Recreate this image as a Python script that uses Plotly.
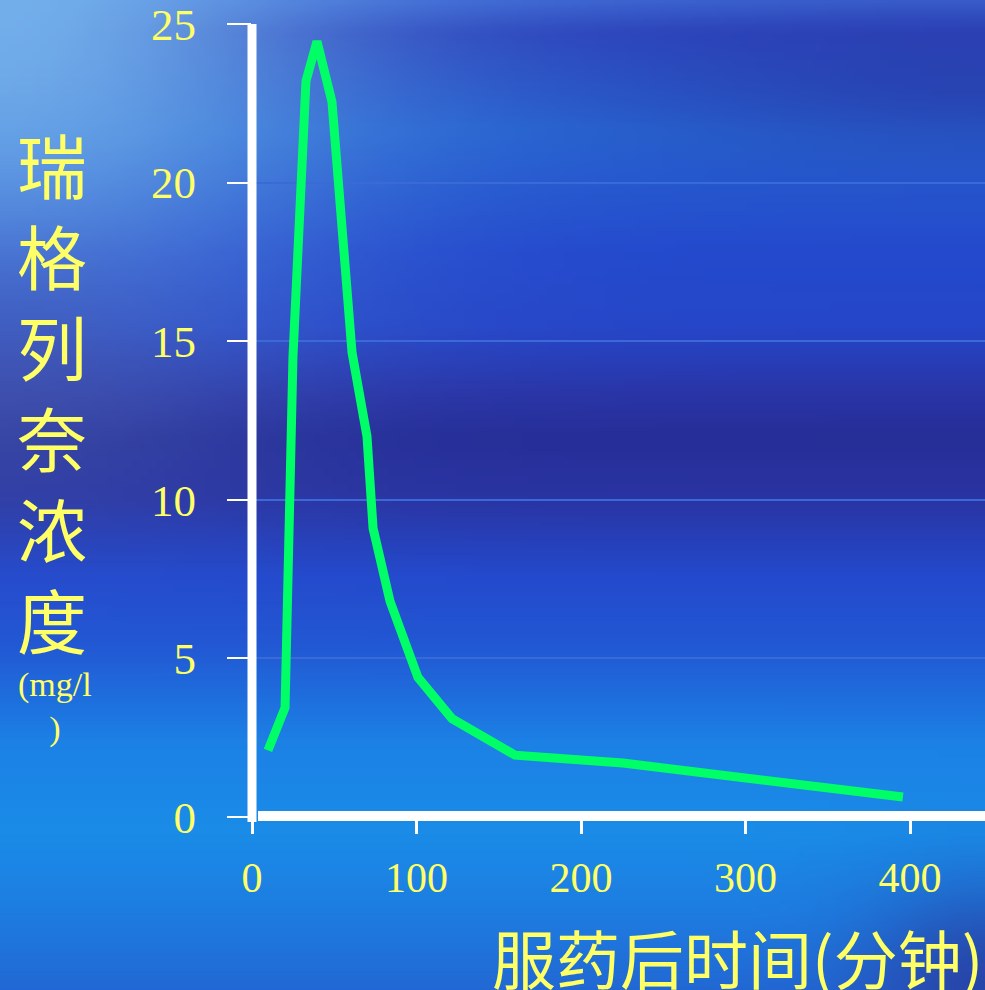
import base64, struct, zlib
import numpy as np
import plotly.graph_objects as go

# ---------------- data ----------------
time_min = [9.7, 20.1, 24.9, 32.8, 39.5, 48.6, 60.8, 69.9, 73.6, 83.9, 100.9, 121.6, 159.9, 225.5, 395.7]
conc = [2.1, 3.45, 14.5, 23.2, 24.45, 22.55, 14.65, 12.0, 9.1, 6.8, 4.4, 3.1, 1.95, 1.7, 0.63]
x_ticks = [0, 100, 200, 300, 400]
y_ticks = [0, 5, 10, 15, 20, 25]
y_title = "瑞<br>格<br>列<br>奈<br>浓<br>度"
y_unit = "(mg/l<br>)"
x_title = "服药后时间(分钟)"

W, H = 985, 990
L, R, T, B = 252, 0, 20, 173
YELLOW = "#FFFF66"
X_SCALE = 1.645  # px per minute

# ---------------- background gradient image ----------------
def make_png(arr):
    h, w, _ = arr.shape
    raw = b"".join(b"\x00" + arr[i].tobytes() for i in range(h))
    def chunk(tag, data):
        c = struct.pack(">I", len(data)) + tag + data
        return c + struct.pack(">I", zlib.crc32(tag + data) & 0xFFFFFFFF)
    png = b"\x89PNG\r\n\x1a\n"
    png += chunk(b"IHDR", struct.pack(">IIBBBBB", w, h, 8, 2, 0, 0, 0))
    png += chunk(b"IDAT", zlib.compress(raw, 9))
    png += chunk(b"IEND", b"")
    return "data:image/png;base64," + base64.b64encode(png).decode()

gw, gh = 120, 120
u = np.linspace(0, 1, gw)[None, :]
v = np.linspace(0, 1, gh)[:, None]
stops_v = [0.0, 0.03, 0.13, 0.25, 0.33, 0.40, 0.44, 0.50, 0.58, 0.65, 0.75, 0.84, 0.92, 1.0]
stops_c = np.array([
    [60, 100, 210], [45, 70, 190], [38, 100, 210], [36, 74, 205], [38, 70, 200],
    [42, 52, 165], [38, 46, 152], [42, 52, 162], [36, 74, 205], [34, 88, 212],
    [28, 130, 230], [26, 140, 232], [30, 125, 225], [34, 104, 212]], dtype=float)
vv = np.linspace(0, 1, gh)
base = np.stack([np.interp(vv, stops_v, stops_c[:, k]) for k in range(3)], axis=-1)
img = np.repeat(base[:, None, :], gw, axis=1)
# top-right navy
wn = (np.exp(-(((1 - u) / 0.35) ** 2 + ((v - 0.08) / 0.08) ** 2)) * 0.6)[..., None]
img = img * (1 - wn) + np.array([40, 56, 165]) * wn
# top-left glow
wg = np.exp(-((u / 0.33) ** 2 + (v / 0.30) ** 2))[..., None]
img = img * (1 - wg) + np.array([115, 175, 235]) * wg
# left-middle purple tint
wp = (np.exp(-((u / 0.22) ** 2 + ((v - 0.38) / 0.12) ** 2)) * 0.5)[..., None]
img = img * (1 - wp) + np.array([70, 85, 170]) * wp
# bottom-right darker
wb = np.exp(-(((1 - u) / 0.12) ** 2 + ((1 - v) / 0.10) ** 2))[..., None]
img = img * (1 - wb) + np.array([40, 70, 170]) * wb
bg_src = make_png(np.clip(img, 0, 255).astype(np.uint8))

pw, ph = W - L - R, H - T - B

def px_x(p):
    return (p - L) / pw

def px_y(p):
    return 1 - (p - T) / ph

fig = go.Figure()
fig.add_trace(go.Scatter(
    x=time_min, y=conc, mode="lines",
    line=dict(color="#00FF66", width=9),
    hoverinfo="skip", showlegend=False,
))

# background covering the whole page (slightly oversized to avoid edge seams)
fig.add_layout_image(dict(
    source=bg_src, xref="paper", yref="paper",
    x=px_x(-6), y=px_y(-6), sizex=(W + 12) / pw, sizey=(H + 12) / ph,
    xanchor="left", yanchor="top", sizing="stretch", layer="below",
))

# thick white axis lines, centred on the plot-area edges
fig.add_shape(type="line", xref="paper", yref="paper", x0=0, x1=0, y0=px_y(822), y1=1,
              line=dict(color="white", width=9))
fig.add_shape(type="line", xref="paper", yref="paper", x0=px_x(258), x1=1.01, y0=px_y(816), y1=px_y(816),
              line=dict(color="white", width=10))

fig.add_annotation(
    text=y_title, xref="paper", yref="paper",
    x=px_x(52), y=px_y(389),
    xanchor="center", yanchor="middle", showarrow=False,
    font=dict(family="Noto Sans CJK SC", size=70, color=YELLOW),
)
fig.add_annotation(
    text=y_unit, xref="paper", yref="paper",
    x=px_x(55), y=px_y(706),
    xanchor="center", yanchor="middle", showarrow=False,
    font=dict(family="Liberation Serif", size=34, color=YELLOW),
)
fig.add_annotation(
    text=x_title, xref="paper", yref="paper",
    x=px_x(490), y=px_y(908),
    xanchor="left", yanchor="top", showarrow=False,
    font=dict(family="Noto Sans CJK SC", size=64, color=YELLOW),
)

fig.update_layout(
    width=W, height=H, autosize=False,
    margin=dict(l=L, r=R, t=T, b=B, pad=0),
    paper_bgcolor="#2448c8", plot_bgcolor="rgba(0,0,0,0)",
    showlegend=False,
    xaxis=dict(
        range=[0, pw / X_SCALE], tickvals=x_ticks, ticktext=[str(t) for t in x_ticks],
        showgrid=False, zeroline=False, showline=False,
        ticks="outside", ticklen=16, tickwidth=3, tickcolor="white",
        tickfont=dict(family="Liberation Serif", size=42, color=YELLOW),
        ticklabelstandoff=8, ticklabeloverflow="allow",
    ),
    yaxis=dict(
        range=[0, 25], tickvals=y_ticks, ticktext=[str(t) for t in y_ticks],
        showgrid=True, gridcolor="#3a6ad8", gridwidth=2, zeroline=False,
        showline=False,
        ticks="outside", ticklen=24, tickwidth=2, tickcolor="white",
        tickfont=dict(family="Liberation Serif", size=45, color=YELLOW),
        ticklabelstandoff=22, ticklabeloverflow="allow",
    ),
)

fig.write_html("out.html", config={"displayModeBar": False},
               post_script="document.body.style.margin='0';")
